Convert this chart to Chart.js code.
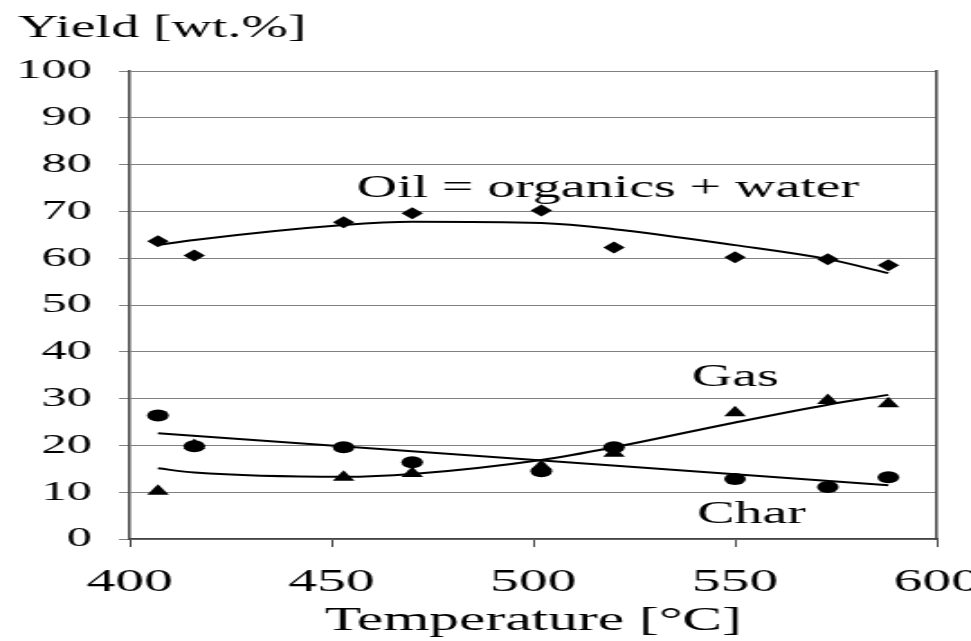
<!DOCTYPE html>
<html>
<head>
<meta charset="utf-8">
<script src="https://cdn.jsdelivr.net/npm/chart.js@4"></script>
<style>
    html, body { margin: 0; padding: 0; background: #fff; overflow: hidden; }
    /* the reference is stretched sideways, so draw narrow and widen it */
    #wrap { width: 539px; height: 641px; transform: scaleX(1.8015); transform-origin: 0 0; }
</style>
</head>
<body>
<div id="wrap"><canvas id="yieldChart" width="539" height="641"></canvas></div>
<script>
// Measured points
const temps = [407, 416, 453, 470, 502, 520, 550, 573, 588];
const oil = [63.6, 60.6, 67.7, 69.6, 70.2, 62.3, 60.2, 59.8, 58.5];
const gas = [10.2, 20.0, 13.2, 14.0, 15.5, 18.3, 27.0, 29.6, 28.9];
const char = [26.4, 19.8, 19.6, 16.4, 14.5, 19.6, 12.8, 11.1, 13.2];

// Trend lines
const oilFit = [62.8, 63.9, 67.1, 67.8, 67.5, 66.2, 62.8, 59.8, 56.8];
const gasFit = [15.1, 14.2, 13.3, 13.9, 16.9, 19.6, 24.9, 28.7, 30.8];
const charFitTemps = [407, 588];
const charFit = [22.6, 11.5];

// Axis ticks
const xTicks = [400, 450, 500, 550, 600];
const yTicks = [0, 10, 20, 30, 40, 50, 60, 70, 80, 90, 100];

const serif = "'Liberation Serif', 'Times New Roman', serif";
const toXY = (xs, ys) => xs.map((x, i) => ({ x: x, y: ys[i] }));

// Free text labels on the plot
const labelsPlugin = {
    id: 'labels',
    afterDraw(chart) {
        const ctx = chart.ctx;
        ctx.save();
        ctx.fillStyle = '#000';
        ctx.textBaseline = 'alphabetic';
        ctx.textAlign = 'left';
        ctx.font = `31px ${serif}`;
        ctx.fillText('Yield [wt.%]', 10, 37);
        ctx.fillText('Oil = organics + water', 198, 197);
        ctx.fillText('Gas', 384, 386);
        ctx.fillText('Char', 387, 523);
        ctx.restore();
    }
};

const pointSet = (label, ys, style, radius) => ({
    type: 'scatter',
    label: label,
    data: toXY(temps, ys),
    pointStyle: style,
    pointRadius: radius,
    pointBackgroundColor: '#000',
    pointBorderColor: '#000',
    pointBorderWidth: 0,
    showLine: false
});

const lineSet = (label, xs, ys) => ({
    type: 'line',
    label: label,
    data: toXY(xs, ys),
    borderColor: '#000',
    borderWidth: 2,
    pointRadius: 0,
    fill: false,
    cubicInterpolationMode: 'monotone'
});

new Chart(document.getElementById('yieldChart'), {
    data: {
        datasets: [
            lineSet('Oil fit', temps, oilFit),
            lineSet('Gas fit', temps, gasFit),
            lineSet('Char fit', charFitTemps, charFit),
            pointSet('Oil', oil, 'rectRot', 6),
            pointSet('Gas', gas, 'triangle', 7),
            pointSet('Char', char, 'circle', 6)
        ]
    },
    options: {
        responsive: false,
        animation: false,
        layout: { padding: { top: 71, right: 19, left: 0, bottom: 0 } },
        plugins: {
            legend: { display: false },
            tooltip: { enabled: false }
        },
        scales: {
            x: {
                type: 'linear',
                min: 400,
                max: 600,
                afterBuildTicks: (scale) => { scale.ticks = xTicks.map(v => ({ value: v })); },
                afterFit: (scale) => {
                    scale.height = 102;
                    scale.paddingLeft = 0;
                    scale.paddingRight = 0;
                },
                grid: { drawOnChartArea: false, drawTicks: true, tickLength: 8, color: '#444' },
                border: { display: true, color: '#444', width: 1.5 },
                ticks: {
                    autoSkip: false,
                    maxRotation: 0,
                    padding: 16,
                    color: '#000',
                    font: { family: serif, size: 32 }
                },
                title: {
                    display: true,
                    text: 'Temperature [°C]',
                    color: '#000',
                    font: { family: serif, size: 33 },
                    padding: { top: 0, bottom: 0 }
                }
            },
            y: {
                type: 'linear',
                min: 0,
                max: 100,
                afterBuildTicks: (scale) => { scale.ticks = yTicks.map(v => ({ value: v })); },
                afterFit: (scale) => {
                    scale.width = 72;
                    scale.paddingTop = 0;
                    scale.paddingBottom = 0;
                },
                grid: { color: '#808080', lineWidth: 1, tickLength: 6 },
                border: { display: true, color: '#444', width: 1.5 },
                ticks: {
                    padding: 15,
                    color: '#000',
                    font: { family: serif, size: 28 }
                }
            },
            y2: {
                type: 'linear',
                position: 'right',
                min: 0,
                max: 100,
                afterFit: (scale) => { scale.width = 0; },
                grid: { display: false },
                border: { display: true, color: '#444', width: 1.5 },
                ticks: { display: false }
            }
        }
    },
    plugins: [labelsPlugin]
});
</script>
</body>
</html>
